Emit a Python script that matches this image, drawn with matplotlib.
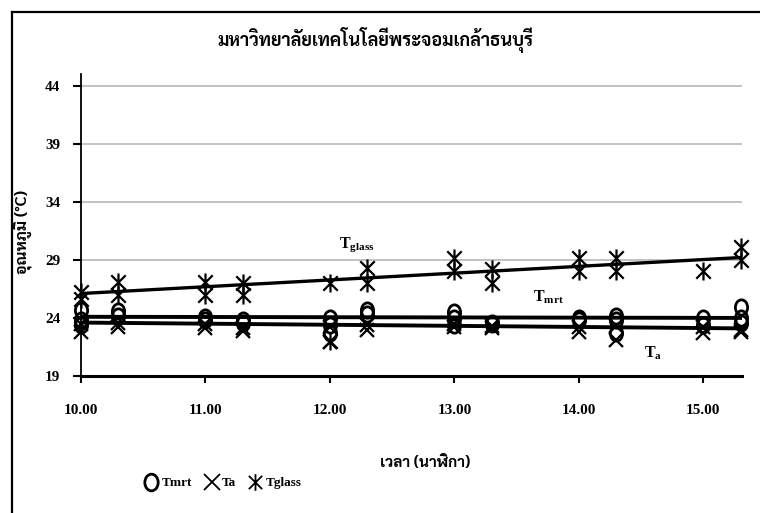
import numpy as np
import matplotlib
matplotlib.use("Agg")
import matplotlib.pyplot as plt
from matplotlib import font_manager
from matplotlib.path import Path
from matplotlib.transforms import Affine2D
from matplotlib.lines import Line2D

# sampling times (hour.minute written as decimal)
times = [10.0, 10.3, 11.0, 11.3, 12.0, 12.3, 13.0, 13.3, 14.0, 14.3, 15.0, 15.3]

# mean radiant temperature, several measuring days
tmrt_a = [24.7, 24.6, 24.1, 23.8, 24.0, 24.7, 24.5, 23.6, 23.8, 24.2, 24.0, 24.9]
tmrt_b = [23.8, 24.2, 23.8, 23.6, 23.4, 24.3, 23.4, 23.5, 24.0, 23.8, 23.4, 24.0]
tmrt_c = [23.4, np.nan, np.nan, np.nan, 22.7, np.nan, 24.0, np.nan, np.nan, 22.7, np.nan, 23.6]

# air temperature
ta_a = [23.5, 23.6, 23.5, 23.1, 23.2, 23.0, 23.5, 23.1, 23.2, 23.3, 23.2, 23.0]
ta_b = [22.8, 23.2, 23.1, 22.9, 21.9, 23.4, 23.2, 23.3, 22.8, 22.1, 22.7, 22.8]

# globe temperature
tglass_a = [26.2, 27.1, 27.1, 27.0, 27.0, 28.3, 29.2, 28.2, 29.2, 29.2, 28.0, 30.1]
tglass_b = [25.6, 26.0, 26.0, 26.0, 22.0, 27.0, 28.0, 27.0, 28.0, 28.0, np.nan, 29.0]

# linear trend lines (value at 10.00 and at 15.30)
trend_x = [10.0, 15.3]
trend_tglass = [26.1, 29.2]
trend_tmrt = [24.1, 24.0]
trend_ta = [23.6, 23.1]

yticks = [19, 24, 29, 34, 39, 44]
xticks = [10, 11, 12, 13, 14, 15]


def pick_font(names):
    have = {f.name for f in font_manager.fontManager.ttflist}
    for n in names:
        if n in have:
            return n
    return "DejaVu Sans"


thai = pick_font(["Sarabun", "Noto Sans Thai", "Noto Serif Thai", "Athiti", "Chakra Petch"])
serif = "Liberation Serif"

plt.rcParams["mathtext.fontset"] = "custom"
plt.rcParams["mathtext.rm"] = serif
plt.rcParams["mathtext.bf"] = serif + ":bold"

# X with a vertical bar, like the spreadsheet "star" marker
star = Path([(-1, -1), (1, 1), (-1, 1), (1, -1), (0, -1.25), (0, 1.25)],
            [Path.MOVETO, Path.LINETO, Path.MOVETO, Path.LINETO, Path.MOVETO, Path.LINETO])
# slightly tall open circle
oval = Path.unit_circle().transformed(Affine2D().scale(0.8, 1.0))

fig = plt.figure(figsize=(7.6, 5.13), dpi=100)
ax = fig.add_axes([81 / 760, 1 - 376 / 513, (742 - 81) / 760, (376 - 74) / 513])

# outer frame (only top and left edges fall inside the image)
fig.add_artist(Line2D([12 / 760, 12 / 760], [0, 1 - 12 / 513], color="black", lw=1.6))
fig.add_artist(Line2D([12 / 760, 1], [1 - 12 / 513, 1 - 12 / 513], color="black", lw=1.6))

ax.set_xlim(10, 15.31)
ax.set_ylim(19, 45)
ax.set_yticks(yticks)
ax.set_xticks(xticks)
ax.set_xticklabels(["%.2f" % t for t in xticks])
ax.grid(axis="y", color="#bdbdbd", lw=1.3)
ax.set_axisbelow(True)
for s in ["top", "right"]:
    ax.spines[s].set_visible(False)
ax.spines["left"].set_linewidth(1.3)
ax.spines["bottom"].set_linewidth(2.2)
ax.tick_params(axis="y", direction="out", length=6, width=1.5, pad=9)
ax.tick_params(axis="x", direction="out", length=5, width=1.5, pad=15)
for lab in ax.get_xticklabels() + ax.get_yticklabels():
    lab.set_fontfamily(serif)
    lab.set_fontweight("bold")
    lab.set_fontsize(11)

# trend lines
ax.plot(trend_x, trend_tglass, color="black", lw=2.4)
ax.plot(trend_x, trend_tmrt, color="black", lw=2.8)
ax.plot(trend_x, trend_ta, color="black", lw=2.8)

ms_kw = dict(linestyle="none", color="black", clip_on=False)
for vals in [tglass_a, tglass_b]:
    ax.plot(times, vals, marker=star, markersize=13, mew=1.6, fillstyle="none", **ms_kw)
for vals in [ta_a, ta_b]:
    ax.plot(times, vals, marker="x", markersize=10, mew=1.6, **ms_kw)
for vals in [tmrt_a, tmrt_b, tmrt_c]:
    ax.plot(times, vals, marker=oval, markersize=11, mew=2.0, mfc="none", **ms_kw)

# series labels beside the trend lines
ax.text(12.07, 30.3, r"$\mathbf{T}_{\mathbf{glass}}$", fontsize=11.5, va="center")
ax.text(13.63, 25.8, r"$\mathbf{T}_{\mathbf{mrt}}$", fontsize=11.5, va="center")
ax.text(14.52, 21.0, r"$\mathbf{T}_{\mathbf{a}}$", fontsize=11.5, va="center")

fig.text(375 / 760, 1 - 40 / 513, "มหาวิทยาลัยเทคโนโลยีพระจอมเกล้าธนบุรี",
         family=[thai, "DejaVu Sans"], fontweight="bold", fontsize=13,
         ha="center", va="center")
fig.text(22 / 760, 1 - 232 / 513, "อุณหภูมิ (°C)", family=[thai, "DejaVu Sans"],
         fontweight="bold", fontsize=11.5, rotation=90, ha="center", va="center")
fig.text(425 / 760, 1 - 462 / 513, "เวลา (นาฬิกา)", family=[thai, "DejaVu Sans"],
         fontweight="bold", fontsize=11, ha="center", va="center")

handles = [
    Line2D([], [], linestyle="none", marker=oval, markersize=12, mew=2.0, mfc="none", color="black"),
    Line2D([], [], linestyle="none", marker="x", markersize=12, mew=1.3, color="black"),
    Line2D([], [], linestyle="none", marker=star, markersize=12, mew=1.3, color="black"),
]
fig.legend(handles, ["Tmrt", "Ta", "Tglass"], loc="center left",
           bbox_to_anchor=(133 / 760, 1 - 483 / 513), ncol=3, frameon=False,
           handlelength=1.0, handletextpad=0.25, columnspacing=1.0,
           prop={"family": serif, "weight": "bold", "size": 9.5})

fig.savefig("out.png", dpi=100)
